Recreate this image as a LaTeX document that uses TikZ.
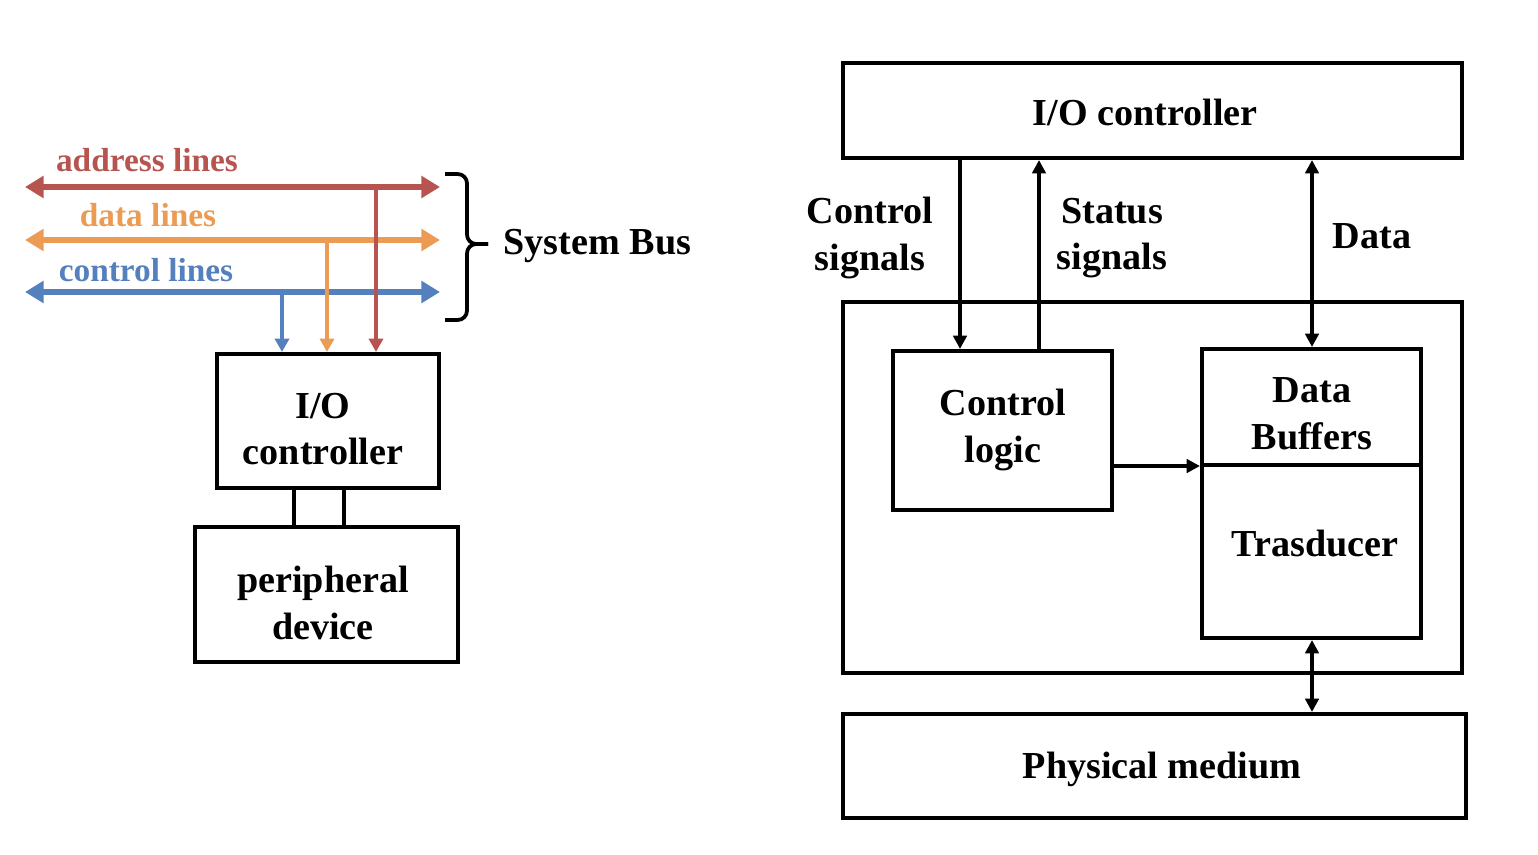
\documentclass[tikz,border=0pt]{standalone}
\usepackage{fontspec}
\setmainfont{Liberation Serif}
\usetikzlibrary{arrows.meta}
\definecolor{addr}{RGB}{184,84,80}
\definecolor{dat}{RGB}{236,155,85}
\definecolor{ctl}{RGB}{85,128,190}
\begin{document}
\begin{tikzpicture}[x=0.75pt,y=-0.75pt,
  box/.style={draw=black,line width=3pt,inner sep=0pt},
  lbl/.style={font=\fontsize{28.6}{35}\selectfont\bfseries,align=center},
  slbl/.style={font=\fontsize{25}{28}\selectfont\bfseries},
  bus/.style={line width=4pt,{Triangle[length=14pt,width=16pt]}-{Triangle[length=14pt,width=16pt]}},
  drop/.style={line width=2.8pt,-{Triangle[length=10pt,width=10.5pt]}},
  conn/.style={line width=2.8pt},
  arr/.style={line width=2.8pt,-{Triangle[length=10pt,width=10pt]}},
  darr/.style={line width=2.8pt,{Triangle[length=10pt,width=10pt]}-{Triangle[length=10pt,width=10pt]}},
  brc/.style={line width=2.8pt,rounded corners=7pt}]
\useasboundingbox (0,0) rectangle (1538,854);
% ---------- left ----------
\coordinate (aL) at (25,187); \coordinate (aR) at (440,187);
\coordinate (dL) at (25,240); \coordinate (dR) at (440,240);
\coordinate (cL) at (25,292); \coordinate (cR) at (440,292);
\draw[bus,addr] (aL) -- (aR);
\draw[bus,dat] (dL) -- (dR);
\draw[bus,ctl] (cL) -- (cR);
\node[slbl,text=addr] (laddr) at (147,160) {address lines};
\node[slbl,text=dat] (ldata) at (148,215) {data lines};
\node[slbl,text=ctl] (lctl) at (146,270) {control lines};
\node[box,minimum width=222*0.75pt,minimum height=134*0.75pt] (io) at (328,421) {};
\node[lbl] (tio) at (323,429) {I/O\\controller};
\node[box,minimum width=263*0.75pt,minimum height=135*0.75pt] (per) at (326.5,594.5) {};
\node[lbl] (tper) at (323,603) {peripheral\\device};
\coordinate (xa) at (376,187); \coordinate (xd) at (327,240); \coordinate (xc) at (282,292);
\draw[drop,addr] (xa) -- (xa |- io.north);
\draw[drop,dat] (xd) -- (xd |- io.north);
\draw[drop,ctl] (xc) -- (xc |- io.north);
\coordinate (p1) at (294,488); \coordinate (p2) at (344,488);
\draw[conn] (p1) -- (p1 |- per.north);
\draw[conn] (p2) -- (p2 |- per.north);
\coordinate (bt) at (445,174); \coordinate (bb) at (445,320); \coordinate (btip) at (488,244);
\draw[brc] (bt) -- (467,174) -- (467,244) -- (btip);
\draw[brc] (bb) -- (467,320) -- (467,244) -- (btip);
\node[lbl,anchor=west] (sb) at (499,246) {System Bus};
% ---------- right ----------
\node[box,minimum width=619*0.75pt,minimum height=95*0.75pt] (ioc) at (1152.5,110.5) {};
\node[lbl] (tioc) at (1145,112) {I/O controller};
\node[box,minimum width=619*0.75pt,minimum height=371*0.75pt] (outer) at (1152.5,487.5) {};
\node[box,minimum width=219*0.75pt,minimum height=159*0.75pt] (cl) at (1002.5,430.5) {};
\node[lbl] (tcl) at (1003,430) {Control\\logic};
\node[box,minimum width=219*0.75pt,minimum height=116*0.75pt] (db) at (1311.5,407) {};
\node[lbl] (tdb) at (1312,414) {Data\\Buffers};
\node[box,minimum width=219*0.75pt,minimum height=173*0.75pt] (tr) at (1311.5,551.5) {};
\node[lbl] (ttr) at (1315,543) {Trasducer};
\node[box,minimum width=623*0.75pt,minimum height=104*0.75pt] (pm) at (1154.5,766) {};
\node[lbl] (tpm) at (1162,769) {Physical medium};
\coordinate (cs) at (960,0); \coordinate (ss) at (1039,0); \coordinate (ds) at (1312,0);
\coordinate (ym) at (0,466);
\draw[arr] (cs |- ioc.south) -- (cs |- cl.north);
\draw[arr] (ss |- cl.north) -- (ss |- ioc.south);
\draw[darr] (ds |- ioc.south) -- (ds |- db.north);
\draw[arr] (cl.east |- ym) -- (tr.west |- ym);
\draw[darr] (ds |- tr.south) -- (ds |- pm.north);
\node[lbl] (lcs) at (870,238) {Control\\signals};
\node[lbl] (lss) at (1112,238) {Status\\signals};
\node[lbl] (lds) at (1372,236) {Data};
\end{tikzpicture}
\end{document}
